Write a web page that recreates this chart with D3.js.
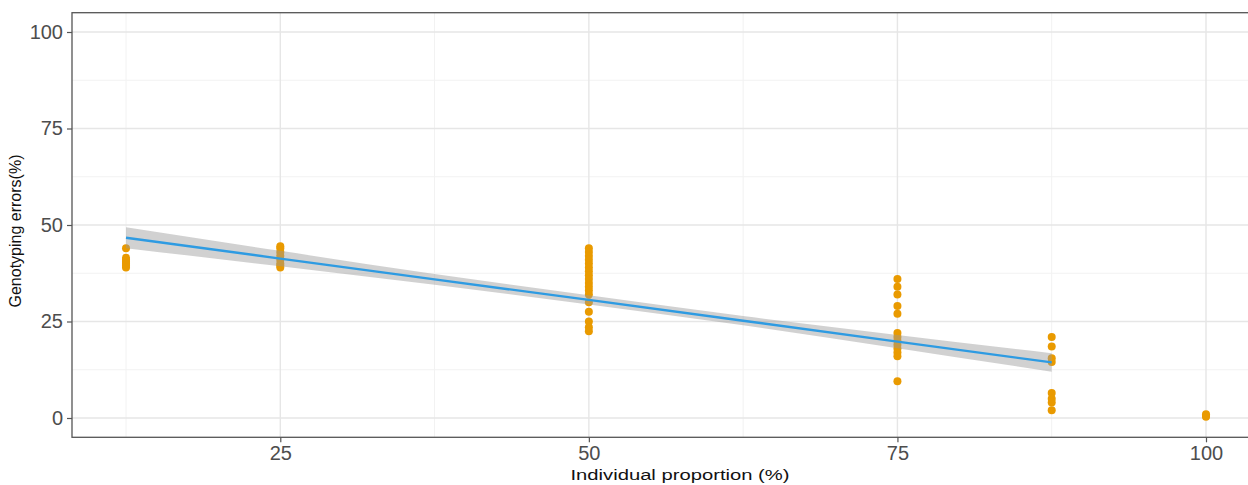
<!DOCTYPE html>
<html>
<head>
<meta charset="utf-8">
<script src="https://cdn.jsdelivr.net/npm/d3@7"></script>
<style>
  html, body { margin: 0; padding: 0; background: #fff; }
  svg { display: block; font-family: "Liberation Sans", Arial, sans-serif; }
</style>
</head>
<body>
<svg id="chart" width="1248" height="485"></svg>
<script>
// Observed genotyping errors per individual proportion
const proportions = [12.5, 25, 50, 75, 87.5, 100];
const errorsAt12_5 = [44, 41.5, 41, 40.5, 40, 39.5, 39];
const errorsAt25 = [44.5, 44, 43, 42, 41, 40, 39.5, 39];
const errorsAt50 = [44, 43, 42, 41, 40, 39, 38, 37, 36, 35, 34, 33, 32, 30, 27.5, 25, 23.5, 22.5];
const errorsAt75 = [36, 34, 32, 29, 27, 22, 21, 20, 19, 18, 17, 16, 9.5];
const errorsAt87_5 = [21, 18.5, 15.5, 14.5, 6.5, 5, 4, 2];
const errorsAt100 = [0.3, 0.6, 1.0];
const errorGroups = [errorsAt12_5, errorsAt25, errorsAt50, errorsAt75, errorsAt87_5, errorsAt100];

// Linear fit with its confidence band
const fitX = [12.5, 25, 37.5, 50, 62.5, 75, 87.5];
const fitY = [46.7, 41.3, 35.9, 30.6, 25.2, 19.8, 14.4];
const fitLower = [44.0, 39.3, 34.5, 29.4, 24.0, 18.1, 12.0];
const fitUpper = [49.4, 43.3, 37.3, 31.8, 26.4, 21.5, 16.8];

const xTicks = [25, 50, 75, 100];
const xMinor = [12.5, 37.5, 62.5, 87.5];
const yTicks = [0, 25, 50, 75, 100];
const yMinor = [12.5, 37.5, 62.5, 87.5];

const points = [];
proportions.forEach((p, i) => errorGroups[i].forEach(v => points.push({x: p, y: v})));

const svg = d3.select("#chart");
const padL = 72, padT = 12.7, padR = 1260, padB = 437.3;

const x = d3.scaleLinear().domain([8.125, 104.375]).range([padL, padR]);
const y = d3.scaleLinear().domain([-5, 105]).range([padB, padT]);

svg.append("defs").append("clipPath").attr("id", "panel")
  .append("rect").attr("x", padL).attr("y", padT).attr("width", padR - padL).attr("height", padB - padT);

const panel = svg.append("g").attr("clip-path", "url(#panel)");

// grid
panel.selectAll(".xminor").data(xMinor).join("line")
  .attr("x1", d => x(d)).attr("x2", d => x(d)).attr("y1", padT).attr("y2", padB)
  .attr("stroke", "#F2F2F2").attr("stroke-width", 1);
panel.selectAll(".yminor").data(yMinor).join("line")
  .attr("y1", d => y(d)).attr("y2", d => y(d)).attr("x1", padL).attr("x2", padR)
  .attr("stroke", "#F2F2F2").attr("stroke-width", 1);
panel.selectAll(".xmajor").data(xTicks).join("line")
  .attr("x1", d => x(d)).attr("x2", d => x(d)).attr("y1", padT).attr("y2", padB)
  .attr("stroke", "#E6E6E6").attr("stroke-width", 1.4);
panel.selectAll(".ymajor").data(yTicks).join("line")
  .attr("y1", d => y(d)).attr("y2", d => y(d)).attr("x1", padL).attr("x2", padR)
  .attr("stroke", "#E6E6E6").attr("stroke-width", 1.4);

// points
panel.selectAll("circle").data(points).join("circle")
  .attr("cx", d => x(d.x)).attr("cy", d => y(d.y)).attr("r", 4)
  .attr("fill", "#E99A00");

// confidence band and fit line
const band = fitX.map((v, i) => ({x: v, lo: fitLower[i], hi: fitUpper[i]}));
panel.append("path").datum(band)
  .attr("d", d3.area().x(d => x(d.x)).y0(d => y(d.lo)).y1(d => y(d.hi)).curve(d3.curveMonotoneX))
  .attr("fill", "#999999").attr("fill-opacity", 0.45);
panel.append("path").datum(fitX.map((v, i) => ({x: v, y: fitY[i]})))
  .attr("d", d3.line().x(d => x(d.x)).y(d => y(d.y)))
  .attr("fill", "none").attr("stroke", "#2E9BE2").attr("stroke-width", 2.4);

// border
svg.append("rect").attr("x", padL).attr("y", padT).attr("width", padR - padL).attr("height", padB - padT)
  .attr("fill", "none").attr("stroke", "#555").attr("stroke-width", 1.3);

// axes
const xAxis = svg.append("g").attr("transform", `translate(0,${padB})`)
  .call(d3.axisBottom(x).tickValues(xTicks).tickSize(5).tickPadding(4));
const yAxis = svg.append("g").attr("transform", `translate(${padL},0)`)
  .call(d3.axisLeft(y).tickValues(yTicks).tickSize(5).tickPadding(4));
[xAxis, yAxis].forEach(a => {
  a.select(".domain").remove();
  a.selectAll(".tick line").attr("stroke", "#555").attr("stroke-width", 1.2);
  a.selectAll(".tick text").attr("fill", "#4D4D4D").attr("font-size", 20)
    .attr("font-family", "'Liberation Sans', Arial, sans-serif");
});

// titles
svg.append("text").attr("x", 680).attr("y", 480).attr("text-anchor", "middle")
  .attr("font-size", 15.5).attr("fill", "#111")
  .attr("textLength", 219).attr("lengthAdjust", "spacingAndGlyphs")
  .text("Individual proportion (%)");
svg.append("text").attr("transform", "translate(21,231) rotate(-90)").attr("text-anchor", "middle")
  .attr("font-size", 16).attr("fill", "#111")
  .text("Genotyping errors(%)");
</script>
</body>
</html>
